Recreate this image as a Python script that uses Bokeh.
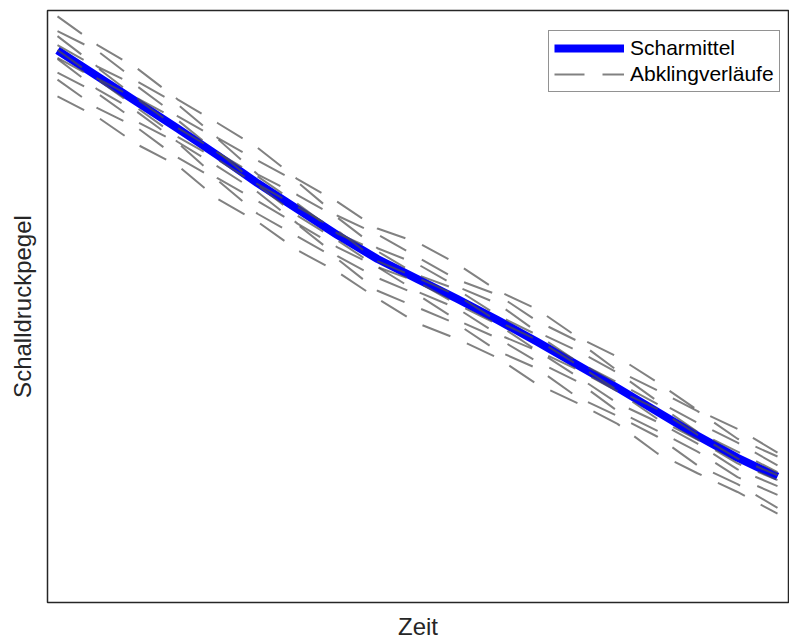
from bokeh.plotting import figure
from bokeh.models import Legend, LegendItem, FixedTicker, Range1d
from bokeh.embed import file_html
from bokeh.resources import INLINE

# Zeitachse (s)
zeit = [0.0, 0.1, 0.2, 0.3, 0.4, 0.5, 0.6, 0.7, 0.8, 0.9,
        1.0, 1.1, 1.2, 1.3, 1.4, 1.5, 1.6, 1.7, 1.8]

# Mittelwert der Abklingkurven (dB)
scharmittel = [-4.05, -6.68, -9.31, -11.94, -14.67, -17.50, -20.13, -22.77, -25.19, -27.22,
               -29.24, -31.37, -33.59, -35.92, -38.25, -40.68, -43.10, -45.33, -47.25]

# Einzelne Abklingverläufe (dB)
abkling_1 = [-0.6, -3.5, -5.9, -9.0, -11.4, -13.9, -17.1, -19.4, -22.1, -23.5,
             -25.7, -28.4, -30.3, -33.1, -35.1, -37.7, -40.5, -42.4, -44.8]
abkling_2 = [-2.1, -4.1, -7.2, -9.5, -12.9, -15.2, -17.4, -20.8, -22.7, -25.0,
             -27.3, -28.8, -31.5, -33.5, -36.5, -38.5, -40.6, -43.4, -45.2]
abkling_3 = [-2.6, -5.7, -7.7, -10.7, -13.0, -16.6, -18.7, -21.0, -24.1, -25.7,
             -28.0, -29.7, -32.6, -34.5, -36.7, -39.6, -41.8, -43.8, -46.1]
abkling_4 = [-3.5, -5.8, -8.9, -11.1, -14.4, -16.8, -19.6, -22.6, -24.4, -26.8,
             -28.3, -30.9, -32.9, -35.6, -37.7, -39.9, -42.7, -44.7, -46.8]
abkling_5 = [-4.0, -6.9, -9.0, -11.9, -14.3, -17.6, -19.9, -22.3, -25.4, -27.1,
             -28.9, -31.5, -33.4, -35.9, -38.5, -40.4, -43.0, -45.4, -47.1]
abkling_6 = [-4.8, -7.0, -9.9, -12.8, -15.1, -17.7, -20.8, -23.3, -26.0, -27.5,
             -29.8, -31.8, -34.5, -36.4, -38.6, -41.4, -43.5, -45.9, -47.6]
abkling_7 = [-4.9, -8.0, -10.3, -13.3, -15.8, -18.4, -21.6, -24.0, -26.0, -28.5,
             -30.2, -32.8, -34.5, -37.1, -39.8, -41.7, -43.9, -46.5, -48.2]
abkling_8 = [-6.3, -8.4, -11.3, -13.4, -17.0, -19.3, -21.7, -24.9, -27.1, -28.8,
             -31.4, -33.2, -35.6, -37.6, -40.6, -42.6, -44.7, -47.3, -49.1]
abkling_9 = [-7.0, -9.9, -11.9, -14.9, -17.2, -20.6, -22.9, -25.2, -28.4, -30.1,
             -31.8, -34.5, -36.3, -39.2, -41.1, -43.2, -46.1, -48.0, -50.4]
abkling_10 = [-8.7, -10.8, -13.6, -15.7, -19.1, -21.4, -24.3, -26.5, -29.2, -31.7,
              -33.3, -35.2, -37.9, -39.8, -41.9, -44.9, -46.9, -48.8, -51.0]

verlaeufe = [abkling_1, abkling_2, abkling_3, abkling_4, abkling_5,
             abkling_6, abkling_7, abkling_8, abkling_9, abkling_10]

FONT = "Liberation Sans"

p = figure(width=789, height=642, output_backend="svg", toolbar_location=None,
           x_range=Range1d(-0.025, 1.8275), y_range=Range1d(-60, 0),
           min_border_left=47, min_border_right=1,
           min_border_top=10, min_border_bottom=39)

p.background_fill_color = "white"
p.border_fill_color = "white"
p.outline_line_color = "#262626"
p.outline_line_width = 1.5
p.outline_line_alpha = 1.0
p.xgrid.grid_line_color = None
p.ygrid.grid_line_color = None

for ax, label in ((p.xaxis, "Zeit"), (p.yaxis, "Schalldruckpegel")):
    ax.ticker = FixedTicker(ticks=[])
    ax.minor_tick_line_color = None
    ax.major_tick_line_color = None
    ax.major_tick_out = 0
    ax.major_tick_in = 0
    ax.major_label_standoff = 0
    ax.axis_line_color = None
    ax.axis_label = label
    ax.axis_label_text_font = FONT
    ax.axis_label_text_font_size = "24px"
    ax.axis_label_text_font_style = "normal"
    ax.axis_label_text_color = "#262626"
p.xaxis.axis_label_standoff = 10
p.yaxis.axis_label_standoff = 12

mittel_r = p.line(zeit, scharmittel, line_color="#0000ff", line_width=8,
                  line_join="round")

kurven_r = p.multi_line([zeit] * len(verlaeufe), verlaeufe,
                        line_color="#505050", line_alpha=0.72, line_width=2,
                        line_dash="30 18")

legend = Legend(items=[LegendItem(label="Scharmittel", renderers=[mittel_r]),
                       LegendItem(label="Abklingverläufe", renderers=[kurven_r])],
                location=(501, 510))
legend.label_text_font = FONT
legend.label_text_font_size = "21px"
legend.label_text_color = "#000000"
legend.glyph_width = 70
legend.glyph_height = 20
legend.label_height = 20
legend.label_standoff = 6
legend.spacing = 2
legend.padding = 5
legend.margin = 0
legend.border_line_color = "#262626"
legend.border_line_width = 1.2
legend.background_fill_color = "white"
legend.background_fill_alpha = 1.0
p.add_layout(legend)

open("out.html", "w").write(file_html(p, INLINE))
